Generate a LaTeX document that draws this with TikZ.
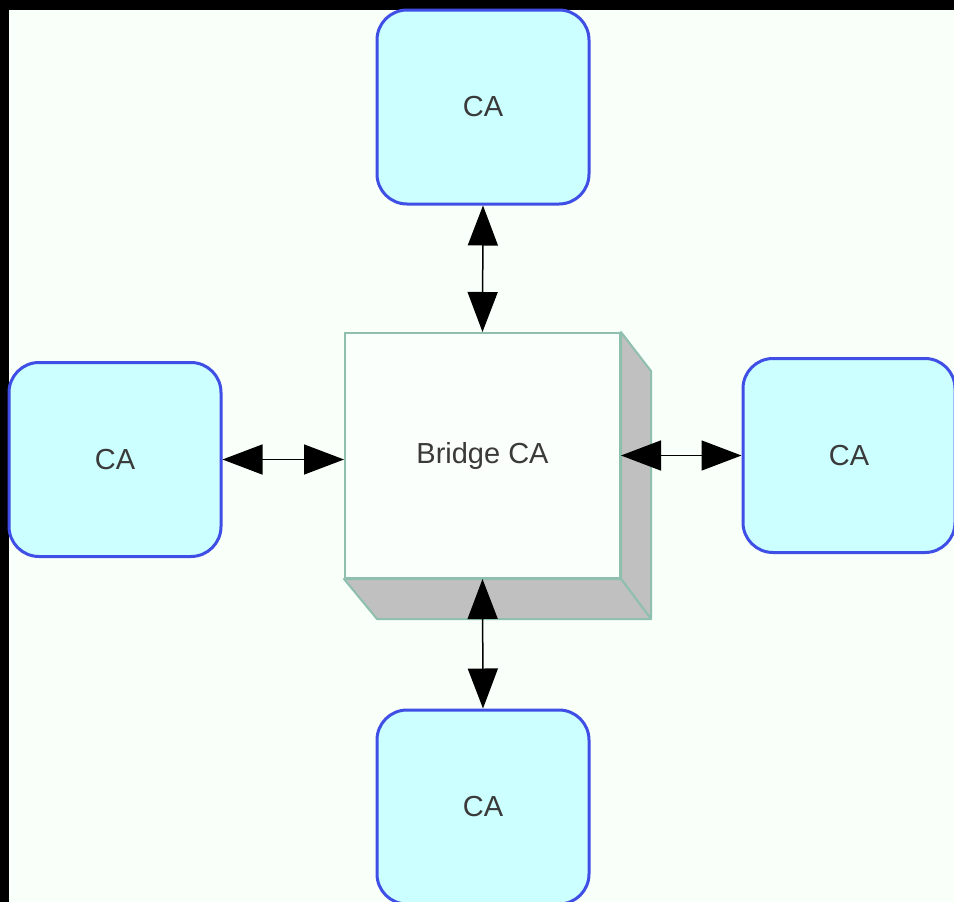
\documentclass[tikz,border=0pt]{standalone}
\usepackage{fontspec}
\setmainfont{Liberation Sans}
\usetikzlibrary{arrows.meta,calc}

\definecolor{pagebg}{HTML}{F9FFF9}
\definecolor{cafill}{HTML}{CCFFFF}
\definecolor{caborder}{HTML}{3F4FE6}
\definecolor{bridgeface}{HTML}{FBFFFB}
\definecolor{bridgeedge}{HTML}{8FBFAF}
\definecolor{bridgeshade}{HTML}{C0C0C0}
\definecolor{labeltext}{HTML}{3A3A3A}

\tikzset{
  cabox/.style={draw=caborder, line width=3pt, fill=cafill, rounded corners=30pt,
    minimum width=212pt, minimum height=194pt, inner sep=0pt,
    text=labeltext, font=\fontsize{29}{32}\selectfont},
  bridgebox/.style={draw=bridgeedge, line width=2pt, fill=bridgeface,
    minimum width=275pt, minimum height=245pt, inner sep=0pt,
    text=labeltext, font=\fontsize{29}{32}\selectfont},
  shade3d/.style={draw=bridgeedge, line width=2pt, fill=bridgeshade, line join=round},
  link/.style={line width=1.5pt, draw=black,
    {Triangle[length=40pt,width=30pt]}-{Triangle[length=40pt,width=30pt]}}
}

\begin{document}
\begin{tikzpicture}[x=1pt,y=-1pt]
  % frame and page
  \clip (0,0) rectangle (954,902);
  \fill[black] (0,0) rectangle (954,902);
  \fill[pagebg] (9,10) rectangle (954,902);

  % certificate authorities
  \node[cabox] (catop)    at (483,107)   {CA};
  \node[cabox] (cabottom) at (483,807)   {CA};
  \node[cabox] (caleft)   at (115,459.5) {CA};
  \node[cabox] (caright)  at (849,455.5) {CA};

  % bridge CA with its raised sides
  \node[bridgebox] (bridge) at (482.5,455.5) {Bridge CA};
  \filldraw[shade3d] (bridge.north east) -- ($(bridge.north east)+(30,39)$)
     -- ($(bridge.south east)+(30,40)$) -- (bridge.south east) -- cycle;
  \filldraw[shade3d] (bridge.south west) -- (bridge.south east)
     -- ($(bridge.south east)+(30,40)$) -- ($(bridge.south west)+(33,40)$) -- cycle;

  % cross-certification links
  \draw[link] (catop.south) -- (bridge.north);
  \draw[link] (bridge.south) -- (cabottom.north);
  \draw[link] (caleft.east) -- (caleft.east -| bridge.west);
  \draw[link] (bridge.east) -- (caright.west);
\end{tikzpicture}
\end{document}
